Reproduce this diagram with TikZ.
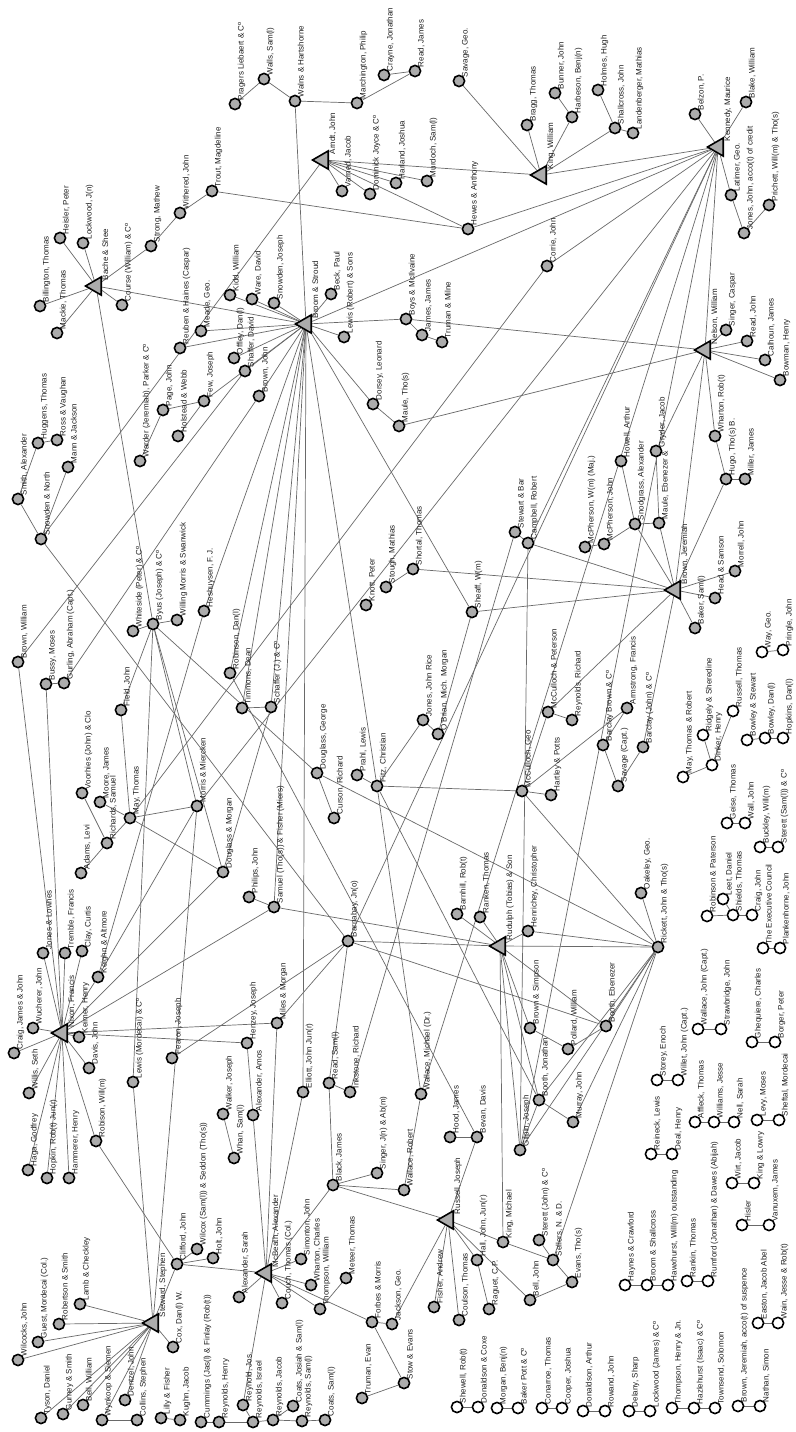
\documentclass[tikz,border=0pt]{standalone}
\usepackage{fontspec}
\setmainfont{Liberation Sans}
\usetikzlibrary{shapes.geometric}
\pgfdeclarelayer{bg}
\pgfdeclarelayer{edges}
\pgfsetlayers{bg,edges,main}
\definecolor{nodefill}{RGB}{172,172,172}
\definecolor{edgec}{RGB}{105,105,105}
\definecolor{labc}{RGB}{30,30,30}
\tikzset{
 gn/.style={circle,draw=black,fill=nodefill,line width=1.6pt,minimum size=11.2pt,inner sep=0pt},
 wn/.style={circle,draw=black,fill=white,line width=1.6pt,minimum size=11.2pt,inner sep=0pt},
 tri/.style={regular polygon,regular polygon sides=3,shape border rotate=90,draw=black,fill=nodefill,line width=1.6pt,minimum size=21pt,inner sep=0pt},
 lab/.style={rotate=90,anchor=base west,inner sep=0pt,outer sep=0pt,font=\fontsize{8}{9}\selectfont,text=labc},
 conn/.style={draw=edgec,line width=0.7pt}
}
\newcommand\gnode[4]{\node[gn] (#1) at (#2,#3) {}; \node[lab] (#1-l) at ([xshift=8.5pt,yshift=4pt]#1.center) {#4};}
\newcommand\wnode[4]{\node[wn] (#1) at (#2,#3) {}; \node[lab] (#1-l) at ([xshift=8.5pt,yshift=4pt]#1.center) {#4};}
\newcommand\tnode[4]{\node[tri] (#1) at (#2+3,#3) {}; \node[lab] (#1-l) at ([xshift=12pt,yshift=6pt]#1.center) {#4};}
\begin{document}
\begin{tikzpicture}[x=1pt,y=-1pt]
\begin{pgfonlayer}{bg}
\fill[white] (0,0) rectangle (795,1432);
\end{pgfonlayer}
\useasboundingbox (0,0) rectangle (795,1432);
% triangles
\tnode{bache}{93}{286}{Bache \& Shee}
\tnode{arndt}{320}{160}{Arndt, John}
\tnode{broom}{303}{324}{Broom \& Stroud}
\tnode{kingW}{538}{175}{King, William}
\tnode{kennedy}{715}{147}{Kennedy, Maurice}
\tnode{nelson}{702}{350}{Nelson, William}
\tnode{brownJer}{672}{590}{Brown, Jeremiah}
\tnode{rudulph}{497}{946}{Rudulph (Tobias) \& Son}
\tnode{nixon}{59}{1033}{Nixon, Francis}
\tnode{steward}{150}{1323}{Steward, Stephen}
\tnode{mcbeath}{263}{1273}{McBeath, Alexander}
\tnode{russell}{445}{1220}{Russell, Joseph}
% gray nodes
\gnode{pragers}{235}{104}{Pragers Liebaert \& Cº}
\gnode{wallsS}{264}{79}{Walls, Sam(l)}
\gnode{walns}{295}{101}{Walns \& Hartshorne}
\gnode{march}{357}{103}{Marchington, Philip}
\gnode{crayne}{384}{75}{Crayne, Jonathan}
\gnode{readJ}{415}{71}{Read, James}
\gnode{savageG}{459}{81}{Savage, Geo.}
\gnode{trout}{212}{191}{Trout, Magdeline}
\gnode{withered}{180}{213}{Withered, John}
\gnode{strong}{151}{246}{Strong, Mathew}
\gnode{course}{122}{305}{Course (William) \& Cº}
\gnode{lockJ}{83}{243}{Lockwood, J(n)}
\gnode{heisler}{60}{238}{Heisler, Peter}
\gnode{billing}{40}{306}{Billington, Thomas}
\gnode{mackie}{57}{333}{Mackie, Thomas}
\gnode{reuben}{180}{348}{Reuben \& Haines (Caspar)}
\gnode{meade}{201}{331}{Meade, Geo.}
\gnode{kidd}{230}{295}{Kidd, William}
\gnode{ware}{252}{299}{Ware, David}
\gnode{offley}{234}{358}{Offley, Dan(l)}
\gnode{shafferD}{245}{371}{Shaffer, David}
\gnode{brownJn}{259}{396}{Brown, John}
\gnode{few}{204}{401}{Few, Joseph}
\gnode{page}{163}{410}{Page, John}
\gnode{holstead}{178}{436}{Holstead \& Webb}
\gnode{warder}{140}{461}{Warder (Jeremiah), Parker \& Cº}
\gnode{snowJ}{274}{303}{Snowden, Joseph}
\gnode{beck}{331}{294}{Beck, Paul}
\gnode{lewisR}{344}{337}{Lewis (Robert) \& Sons}
\gnode{boys}{406}{319}{Boys \& McIlvaine}
\gnode{jamesJ}{422}{335}{James, James}
\gnode{truman}{442}{342}{Truman \& Milne}
\gnode{varned}{342}{191}{Varned, Jacob}
\gnode{dominick}{370}{194}{Dominick Joyce \& Cº}
\gnode{harland}{396}{183}{Harland, Joshua}
\gnode{murdoch}{427}{181}{Murdoch, Sam(l)}
\gnode{hewes}{468}{229}{Hewes \& Anthony}
\gnode{bragg}{527}{125}{Bragg, Thomas}
\gnode{bunner}{555}{93}{Bunner, John}
\gnode{harbeson}{572}{117}{Harbeson, Benj(n)}
\gnode{holmes}{598}{90}{Holmes, Hugh}
\gnode{shall}{615}{128}{Shallcross, John}
\gnode{landen}{633}{133}{Landenberger, Mathias}
\gnode{belzon}{695}{114}{Belzon, P.}
\gnode{blake}{746}{102}{Blake, William}
\gnode{latimer}{731}{195}{Latimer, Geo.}
\gnode{jonesJ}{744}{233}{Jones, John, acco(t) of credit}
\gnode{prichett}{769}{205}{Prichett, Will(m) \& Tho(s)}
\gnode{corrie}{547}{266}{Corrie, John}
\gnode{singerC}{726}{330}{Singer, Caspar}
\gnode{readJohn}{747}{341}{Read, John}
\gnode{calhoun}{765}{360}{Calhoun, James}
\gnode{bowman}{780}{380}{Bowman, Henry}
\gnode{dorsey}{373}{404}{Dorsey, Leonard}
\gnode{mauleT}{399}{426}{Maule, Tho(s)}
\gnode{smithA}{18}{499}{Smith, Alexander}
\gnode{huggens}{38}{443}{Huggens, Thomas}
\gnode{ross}{57}{440}{Ross \& Vaughan}
\gnode{mann}{68}{467}{Mann \& Jackson}
\gnode{snowN}{41}{539}{Snowden \& North}
\gnode{brownW}{18}{662}{Brown, William}
\gnode{bussy}{46}{684}{Bussy, Moses}
\gnode{gurling}{64}{683}{Gurling, Abraham (Capt.)}
\gnode{whiteside}{133}{631}{Whiteside (Peter) \& Cº}
\gnode{byus}{153}{624}{Byus (Joseph) \& Cº}
\gnode{willing}{177}{620}{Willing Morris \& Swanwick}
\gnode{heshuy}{204}{611}{Heshuysen, F. J.}
\gnode{field}{121}{710}{Field, John}
\gnode{robinD}{230}{673}{Robinson, Dan(l)}
\gnode{timmons}{242}{708}{Timmons, Dean}
\gnode{schafferJ}{271}{707}{Schaffer (J.) \& Cº}
\gnode{knott}{366}{605}{Knott, Peter}
\gnode{stough}{386}{587}{Stough, Mathias}
\gnode{shortal}{413}{569}{Shortal, Thomas}
\gnode{sheaff}{472}{612}{Sheaff, W(m)}
\gnode{stewartB}{515}{532}{Stewart \& Bar}
\gnode{campbell}{528}{543}{Campbell, Robert}
\gnode{wharton}{715}{436}{Wharton, Rob(t)}
\gnode{hugo}{726}{479}{Hugo, Tho(s) B.}
\gnode{miller}{745}{479}{Miller, James}
\gnode{gryder}{656}{451}{Gryder, Jacob}
\gnode{howell}{621}{461}{Howell, Arthur}
\gnode{snod}{635}{524}{Snodgrass, Alexander}
\gnode{mauleE}{659}{523}{Maule, Ebenezer \&}
\gnode{mcpW}{585}{547}{McPherson, W(m) (Maj.)}
\gnode{mcpJ}{604}{544}{McPherson, John}
\gnode{head}{715}{598}{Head \& Samson}
\gnode{morrell}{735}{571}{Morrell, John}
\gnode{bakerS}{695}{628}{Baker, Sam(l)}
\gnode{jonesR}{423}{720}{Jones, John Rice}
\gnode{obrian}{438}{734}{O'Brian, Mich. Morgan}
\gnode{mccP}{548}{712}{McCulloch \& Peterson}
\gnode{reynR}{572}{720}{Reynolds, Richard}
\gnode{armstrong}{627}{708}{Armstrong, Francis}
\gnode{barclayB}{603}{745}{Barclay Brown \& Cº}
\gnode{savageC}{618}{786}{Savage (Capt.)}
\gnode{barclayJ}{643}{747}{Barclay (John) \& Cº}
\gnode{mccG}{522}{791}{McCulloch, Geo}
\gnode{hartley}{551}{795}{Hartley \& Potts}
\gnode{douglassG}{317}{773}{Douglass, George}
\gnode{curson}{334}{818}{Curson, Richard}
\gnode{prahl}{357}{775}{Prahl, Lewis}
\gnode{fitz}{377}{786}{Fitz, Christian}
\gnode{voorhies}{82}{793}{Voorhies (John) \& Clo}
\gnode{moore}{100}{802}{Moore, James}
\gnode{richards}{107}{843}{Richards, Samuel}
\gnode{adams}{81}{873}{Adams, Levi}
\gnode{mayT}{130}{818}{May, Thomas}
\gnode{morris}{197}{806}{Morris \& Miercken}
\gnode{douglassM}{223}{872}{Douglass \& Morgan}
\gnode{philips}{249}{897}{Philips, John}
\gnode{samuel}{274}{907}{Samuel (Tho(s)) \& Fisher (Miers)}
\gnode{jonesL}{43}{953}{Jones \& Lownes}
\gnode{tremble}{65}{953}{Tremble, Francis}
\gnode{clay}{82}{951}{Clay, Curtis}
\gnode{keighn}{98}{977}{Keighn \& Altmore}
\gnode{craig}{14}{1053}{Craig, James \& John}
\gnode{wucherer}{33}{1028}{Wucherer, John}
\gnode{keimer}{79}{1037}{Keimer, Henry}
\gnode{davis}{89}{1068}{Davis, John}
\gnode{lewisM}{133}{1082}{Lewis (Mordecai) \& Cº}
\gnode{fearon}{172}{1058}{Fearon, Joseph}
\gnode{henzey}{247}{1043}{Henzey, Joseph}
\gnode{barnabay}{348}{941}{Barnabay, Jn(o)}
\gnode{barnhill}{457}{914}{Barnhill, Rob(t)}
\gnode{ranken}{480}{917}{Ranken, Thomas}
\gnode{henrichey}{528}{931}{Henrichey, Christopher}
\gnode{miles}{277}{1023}{Miles \& Morgan}
\gnode{brownS}{530}{1028}{Brown \& Simpson}
\gnode{pollard}{568}{1049}{Pollard, William}
\gnode{boothE}{606}{1026}{Booth, Ebenezer}
\gnode{oakeley}{641}{893}{Oakeley, Geo.}
\gnode{rickett}{658}{947}{Rickett, John \& Tho(s)}
\gnode{willis}{29}{1093}{Willis, Seth}
\gnode{haga}{28}{1170}{Haga, Godfrey}
\gnode{hopkin}{47}{1178}{Hopkin, Rob(t) Jun(r)}
\gnode{hammerer}{69}{1178}{Hammerer, Henry}
\gnode{robison}{96}{1141}{Robison, Will(m)}
\gnode{wilcocks}{18}{1360}{Wilcocks, John}
\gnode{guest}{38}{1342}{Guest, Mordecai (Col.)}
\gnode{robertson}{59}{1324}{Robertson \& Smith}
\gnode{lamb}{80}{1304}{Lamb \& Checkley}
\gnode{cox}{173}{1347}{Cox, Dan(l) W.}
\gnode{clifford}{177}{1264}{Clifford, John}
\gnode{wilcox}{197}{1249}{Wilcox (Sam(l)) \& Seddon (Tho(s))}
\gnode{holt}{213}{1258}{Holt, John}
\gnode{alexS}{239}{1297}{Alexander, Sarah}
\gnode{walker}{223}{1114}{Walker, Joseph}
\gnode{whan}{234}{1158}{Whan, Sam(l)}
\gnode{alexA}{253}{1115}{Alexander, Amos}
\gnode{tyson}{41}{1418}{Tyson, Daniel}
\gnode{gurney}{63}{1414}{Gurney \& Smith}
\gnode{bellW}{83}{1405}{Bell, William}
\gnode{wynkoop}{102}{1420}{Wynkoop \& Siemen}
\gnode{dentzel}{125}{1400}{Dentzel, John}
\gnode{collins}{137}{1420}{Collins, Stephen}
\gnode{lilly}{161}{1418}{Lilly \& Fisher}
\gnode{kughn}{180}{1420}{Kughn, Jacob}
\gnode{cummings}{201}{1422}{Cummings (Jas(l) \& Finlay (Rob(t))}
\gnode{reynH}{219}{1422}{Reynolds, Henry}
\gnode{reynJos}{243}{1405}{Reynold, Jos.}
\gnode{reynI}{253}{1422}{Reynolds, Israel}
\gnode{reynJac}{273}{1420}{Reynolds, Jacob}
\gnode{coatsJ}{293}{1406}{Coats, Josiah \& Sam(l)}
\gnode{reynS}{302}{1421}{Reynolds, Sam(l)}
\gnode{coatsS}{325}{1420}{Coats, Sam(l)}
\gnode{elliott}{303}{1092}{Elliott, John Jun(r)}
\gnode{readS}{329}{1083}{Read, Sam(l)}
\gnode{inkstone}{350}{1092}{Inkstone, Richard}
\gnode{wallaceM}{421}{1094}{Wallace, Michael (Dr.)}
\gnode{hood}{450}{1137}{Hood, James}
\gnode{bevan}{477}{1137}{Bevan, Davis}
\gnode{gilpin}{520}{1150}{Gilpin, Joseph}
\gnode{blackJ}{333}{1185}{Black, James}
\gnode{singerJ}{377}{1173}{Singer, J(n) \& Ab(m)}
\gnode{wallaceR}{404}{1190}{Wallace, Robert}
\gnode{kingM}{503}{1242}{King, Michael}
\gnode{hall}{477}{1260}{Hall, John, Jun(r)}
\gnode{raguet}{489}{1309}{Raguet, C.P.}
\gnode{coulson}{459}{1320}{Coulson, Thomas}
\gnode{fisherA}{434}{1307}{Fisher, Andrew}
\gnode{simonton}{301}{1259}{Simonton, John}
\gnode{whartonC}{311}{1285}{Wharton, Charles}
\gnode{thompsonW}{320}{1309}{Thompson, William}
\gnode{meteer}{346}{1278}{Meteer, Thomas}
\gnode{couch}{282}{1303}{Couch, Thomas (Col.)}
\gnode{forbes}{372}{1322}{Forbes \& Morris}
\gnode{jackson}{392}{1324}{Jackson, Geo.}
\gnode{trumanE}{362}{1398}{Truman, Evan}
\gnode{stow}{404}{1383}{Stow \& Evans}
\gnode{boothJ}{539}{1100}{Booth, Jonathan}
\gnode{murray}{573}{1122}{Murray, John}
\gnode{sterett}{539}{1240}{Sterett (John) \& Cº}
\gnode{sellers}{553}{1260}{Sellers, N. \& D.}
\gnode{evans}{572}{1282}{Evans, Tho(s)}
\gnode{bellJ}{530}{1300}{Bell, John}
% white nodes
\wnode{wayG}{762}{652}{Way, Geo.}
\wnode{pringle}{783}{650}{Pringle, John}
\wnode{russellT}{733}{711}{Russell, Thomas}
\wnode{ridgely}{703}{735}{Ridgely \& Sheredine}
\wnode{dinker}{712}{765}{Dinker, Henry}
\wnode{mayTR}{683}{777}{May, Thomas \& Robert}
\wnode{bowleyS}{747}{740}{Bowley \& Stewart}
\wnode{bowleyD}{765}{738}{Bowley, Dan(l)}
\wnode{hopkinsD}{783}{738}{Hopkins, Dan(l)}
\wnode{geise}{727}{823}{Geise, Thomas}
\wnode{wallJ}{745}{823}{Wall, John}
\wnode{buckley}{760}{847}{Buckley, Will(m)}
\wnode{sterettS}{778}{847}{Sterett (Sam(l)) \& Cº}
\wnode{robinsonP}{707}{916}{Robinson \& Paterson}
\wnode{leet}{723}{899}{Leet, Daniel}
\wnode{shields}{733}{915}{Shields, Thomas}
\wnode{craigJ}{752}{915}{Craig, John}
\wnode{exec}{763}{948}{The Executive Council}
\wnode{plank}{780}{948}{Plankenhorne, John}
\wnode{wallaceJ}{698}{1029}{Wallace, John (Capt.)}
\wnode{straw}{721}{1029}{Strawbridge, John}
\wnode{ghequiere}{752}{1042}{Ghequiere, Charles}
\wnode{borger}{775}{1042}{Borger, Peter}
\wnode{storey}{657}{1080}{Storey, Enoch}
\wnode{willet}{678}{1080}{Willet, John (Capt.)}
\wnode{reineck}{651}{1154}{Reineck, Lewis}
\wnode{deal}{672}{1154}{Deal, Henry}
\wnode{affleck}{695}{1122}{Affleck, Thomas}
\wnode{williamsJ}{714}{1122}{Williams, Jesse}
\wnode{nell}{734}{1122}{Nell, Sarah}
\wnode{levy}{757}{1120}{Levy, Moses}
\wnode{sheftal}{779}{1120}{Sheftal, Mordecai}
\wnode{wirt}{732}{1183}{Wirt, Jacob}
\wnode{kingL}{754}{1183}{King \& Lowry}
\wnode{hisler}{742}{1225}{Hisler}
\wnode{vanuxem}{769}{1225}{Vanuxem, James}
\wnode{haynes}{625}{1285}{Haynes \& Crawford}
\wnode{broomS}{647}{1285}{Broom \& Shallcross}
\wnode{hawx}{668}{1285}{Hawxhurst, Will(m) outstanding}
\wnode{rankin}{687}{1281}{Rankin, Thomas}
\wnode{rumford}{708}{1281}{Rumford (Jonathan) \& Dawes (Abijah)}
\wnode{easton}{758}{1323}{Easton, Jacob Abel}
\wnode{wain}{778}{1323}{Wain, Jesse \& Rob(t)}
\wnode{shewell}{457}{1407}{Shewell, Rob(t)}
\wnode{donaldsonC}{478}{1407}{Donaldson \& Coxe}
\wnode{morgan}{497}{1408}{Morgan, Benj(n)}
\wnode{bakerP}{518}{1408}{Baker Pott \& Cº}
\wnode{conarroe}{542}{1408}{Conarroe, Thomas}
\wnode{cooper}{562}{1408}{Cooper, Joshua}
\wnode{donaldsonA}{583}{1411}{Donaldson, Arthur}
\wnode{rowand}{605}{1411}{Rowand, John}
\wnode{delany}{629}{1411}{Delany, Sharp}
\wnode{lockwoodJ}{650}{1411}{Lockwood (James) \& Cº}
\wnode{thompsonH}{672}{1408}{Thompson, Henry \& Jn.}
\wnode{hazle}{694}{1408}{Hazlehurst (Isaac) \& Cº}
\wnode{townsend}{715}{1408}{Townsend, Solomon}
\wnode{brownJA}{738}{1406}{Brown, Jeremiah, acco(t) of suspence}
\wnode{nathan}{760}{1406}{Nathan, Simon}
\begin{pgfonlayer}{edges}
\foreach \a/\b in {bache/billing, bache/mackie, bache/heisler, bache/lockJ, bache/course, bache/strong, bache/broom, bache/byus,
strong/withered, withered/trout, trout/hewes,
pragers/wallsS, wallsS/walns, walns/march, march/readJ, crayne/readJ, walns/broom,
savageG/kingW,
arndt/varned, arndt/dominick, arndt/harland, arndt/murdoch, arndt/hewes, arndt/kingW, arndt/snowN,
hewes/kennedy,
broom/snowJ, broom/beck, broom/lewisR, broom/boys, broom/reuben, broom/meade, broom/kidd, broom/ware, broom/offley, broom/shafferD, broom/brownJn, broom/few, broom/dorsey, broom/sheaff, broom/kennedy, broom/elliott, broom/fitz, broom/heshuy, broom/robinD, broom/timmons, broom/schafferJ, broom/samuel,
boys/jamesJ, jamesJ/truman, boys/nelson,
kingW/bragg, kingW/harbeson, harbeson/bunner, kingW/shall, shall/holmes, shall/landen, kingW/kennedy,
kennedy/belzon, kennedy/blake, kennedy/latimer, latimer/jonesJ, jonesJ/prichett, kennedy/corrie, kennedy/campbell, kennedy/nelson, kennedy/morris, kennedy/barnabay, kennedy/wallaceM, kennedy/gilpin,
nelson/singerC, nelson/readJohn, nelson/calhoun, nelson/bowman, nelson/mauleT, nelson/wharton, nelson/brownJer, nelson/gryder,
dorsey/mauleT,
brownJer/snod, brownJer/mauleE, brownJer/hugo, brownJer/head, brownJer/bakerS, brownJer/morrell, brownJer/campbell, brownJer/shortal, brownJer/sheaff, brownJer/mccP, brownJer/barclayJ,
gryder/mauleE, howell/snod, mcpJ/snod, mcpW/mcpJ, snod/mauleE, hugo/wharton, hugo/miller,
shortal/stough, sheaff/obrian, jonesR/obrian, fitz/jonesR,
stewartB/inkstone, stewartB/campbell, campbell/gilpin,
corrie/mayT,
snowN/smithA, smithA/huggens, huggens/ross, snowN/mann, snowN/barnabay,
warder/page, page/few, holstead/few,
brownW/nixon, brownW/shafferD, bussy/nixon, bussy/gurling, gurling/brownJn,
byus/whiteside, byus/willing, byus/lewisM, byus/morris, byus/field, byus/douglassM,
heshuy/keighn, timmons/schafferJ, robinD/bevan, douglassM/schafferJ,
samuel/nixon, samuel/rudulph, samuel/philips,
nixon/craig, nixon/wucherer, nixon/willis, nixon/jonesL, nixon/tremble, nixon/clay, nixon/keighn, nixon/keimer, nixon/davis, nixon/haga, nixon/hopkin, nixon/hammerer, nixon/robison, nixon/douglassM, nixon/miles, nixon/henzey,
keighn/morris,
voorhies/richards, moore/mayT, adams/richards, richards/mayT, field/mayT, mayT/morris, mayT/douglassM,
lewisM/steward, fearon/barnabay, henzey/alexA,
miles/barnabay, miles/mcbeath,
barnabay/rudulph, barnabay/boothE, barnabay/readS,
rudulph/barnhill, rudulph/ranken, rudulph/henrichey, rudulph/rickett, rudulph/brownS, rudulph/boothJ, rudulph/gilpin, rudulph/boothE, rudulph/kingM,
henrichey/rickett, douglassG/rickett, douglassG/curson, douglassG/byus, prahl/fitz, fitz/mccG, fitz/wallaceM, fitz/boothJ,
mccG/hartley, mccG/mccP, mccP/reynR, mccG/rickett, mccG/armstrong, armstrong/barclayB, barclayB/savageC, savageC/barclayJ,
oakeley/rickett, rickett/boothE, rickett/boothJ, rickett/murray, rickett/sellers, rickett/gilpin,
brownS/pollard, pollard/boothE, boothJ/murray, boothJ/gilpin,
sellers/sterett, sellers/evans, sellers/kingM, evans/bellJ, bellJ/russell,
russell/blackJ, russell/bevan, russell/kingM, russell/hall, russell/coulson, russell/fisherA, russell/jackson, bevan/hood, hall/raguet,
blackJ/readS, blackJ/singerJ, blackJ/wallaceR, blackJ/mcbeath, wallaceR/wallaceM, readS/inkstone,
steward/wilcocks, steward/guest, steward/robertson, steward/lamb, steward/tyson, steward/gurney, steward/bellW, steward/wynkoop, steward/dentzel, steward/cox, steward/clifford, steward/morris,
wynkoop/collins, lilly/kughn, clifford/robison, clifford/wilcox, clifford/holt, clifford/mcbeath,
mcbeath/alexS, mcbeath/alexA, mcbeath/elliott, mcbeath/simonton, mcbeath/whartonC, mcbeath/thompsonW, mcbeath/couch, mcbeath/forbes, mcbeath/reynJos, thompsonW/meteer, walker/whan,
forbes/jackson, forbes/stow, stow/trumanE,
reynJos/reynI, cummings/reynH, reynH/reynI, reynI/reynJac, reynJac/coatsJ, reynJac/reynS, reynS/coatsS,
wayG/pringle, mayTR/dinker, dinker/ridgely, dinker/russellT, bowleyS/bowleyD, bowleyD/hopkinsD, geise/wallJ, buckley/sterettS, robinsonP/shields, leet/shields, shields/craigJ, exec/plank, wallaceJ/straw, ghequiere/borger, storey/willet, reineck/deal, affleck/williamsJ, williamsJ/nell, levy/sheftal, wirt/kingL, hisler/vanuxem, haynes/broomS, broomS/hawx, rankin/rumford, easton/wain, shewell/donaldsonC, morgan/bakerP, conarroe/cooper, donaldsonA/rowand, delany/lockwoodJ, thompsonH/hazle, hazle/townsend, brownJA/nathan}
  \draw[conn] (\a) -- (\b);
\end{pgfonlayer}
\end{tikzpicture}
\end{document}
